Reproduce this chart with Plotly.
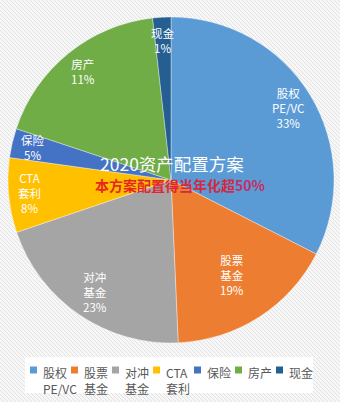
import math
import plotly.graph_objects as go

# ---- data ----
categories = ["股权PE/VC", "股票基金", "对冲基金", "CTA套利", "保险", "房产", "现金"]
label_lines = ["股权<br>PE/VC", "股票<br>基金", "对冲<br>基金", "CTA<br>套利", "保险", "房产", "现金"]
# slice sizes as drawn in the picture
values = [32.5, 16.8, 20.5, 7.4, 2.9, 18.1, 1.8]
# percentages printed on the labels
pct_labels = ["33%", "19%", "23%", "8%", "5%", "11%", "1%"]
colors = ["#5B9BD5", "#ED7D31", "#A5A5A5", "#FFC000", "#4472C4", "#70AD47", "#255E91"]
title_text = "2020资产配置方案"
subtitle_parts = [("本方案", "#E8261F"), ("配置得", "#E0262F"), ("当年化超", "#D4293F"), ("50%", "#C22F66")]

# ---- layout constants ----
W, H = 340, 402
CX, CY, R = 171, 180, 163           # pie centre / radius in pixels
label_r = [0.84, 0.69, 0.83, 0.87, 0.87, 0.86, 0.86]

def px(x):
    return x / W

def py(y):
    return 1 - y / H

fig = go.Figure()

# hatch background
shapes = []
for x0 in range(-H, W + 4, 4):
    shapes.append(dict(type="line", xref="paper", yref="paper",
                       x0=px(x0), y0=py(0), x1=px(x0 + H), y1=py(H),
                       line=dict(color="#E2E2E2", width=1), layer="below"))

fig.add_trace(go.Pie(
    labels=categories,
    values=values,
    textinfo="none",
    sort=False,
    direction="clockwise",
    rotation=0,
    marker=dict(colors=colors, line=dict(color="rgba(255,255,255,0.6)", width=0.6)),
    domain=dict(x=[px(CX - R), px(CX + R)], y=[py(CY + R), py(CY - R)]),
    showlegend=False,
    hoverinfo="label+percent",
))

# slice labels placed at the middle angle of each slice
total = sum(values)
cum = 0.0
for i, v in enumerate(values):
    mid = (cum + v / 2) / total * 2 * math.pi
    cum += v
    lx = CX + label_r[i] * R * math.sin(mid)
    ly = CY - label_r[i] * R * math.cos(mid)
    fig.add_annotation(x=px(lx), y=py(ly), xref="paper", yref="paper",
                       xanchor="center", yanchor="middle",
                       text=f"{label_lines[i]}<br>{pct_labels[i]}", showarrow=False,
                       font=dict(color="white", size=11.5, family="Noto Sans CJK SC"))

# centre texts
fig.add_annotation(x=px(172), y=py(164), xref="paper", yref="paper",
                   xanchor="center", yanchor="middle",
                   text=title_text, showarrow=False,
                   font=dict(color="white", size=17.5, family="Noto Sans CJK SC"))
sub = "".join(f'<span style="color:{c}">{t}</span>' for t, c in subtitle_parts)
fig.add_annotation(x=px(180), y=py(185), xref="paper", yref="paper",
                   xanchor="center", yanchor="middle",
                   text=f"<b>{sub}</b>", showarrow=False,
                   font=dict(size=14, family="Noto Sans CJK SC"))

# legend (drawn manually so it fits on one row like the reference)
shapes.append(dict(type="rect", xref="paper", yref="paper",
                   x0=px(25), x1=px(313), y0=py(393), y1=py(357),
                   fillcolor="white", line=dict(width=0), layer="below"))
LEG_X0, LEG_STEP, LEG_Y = 33, 41, 370
for i, name in enumerate(label_lines):
    sx = LEG_X0 + i * LEG_STEP
    shapes.append(dict(type="rect", xref="paper", yref="paper",
                       x0=px(sx - 3), x1=px(sx + 4), y0=py(LEG_Y + 3.5), y1=py(LEG_Y - 3.5),
                       fillcolor=colors[i], line=dict(width=0)))
    fig.add_annotation(x=px(sx + 8), y=py(LEG_Y - 8), xref="paper", yref="paper",
                       xanchor="left", yanchor="top", align="left",
                       text=name, showarrow=False,
                       font=dict(size=12, color="#595959", family="Noto Sans CJK SC"))

fig.update_layout(
    width=W, height=H,
    margin=dict(l=0, r=0, t=0, b=0),
    paper_bgcolor="#F7F7F7",
    plot_bgcolor="#F7F7F7",
    shapes=shapes,
    showlegend=False,
    font=dict(family="Noto Sans CJK SC"),
)

fig.write_html("out.html")
